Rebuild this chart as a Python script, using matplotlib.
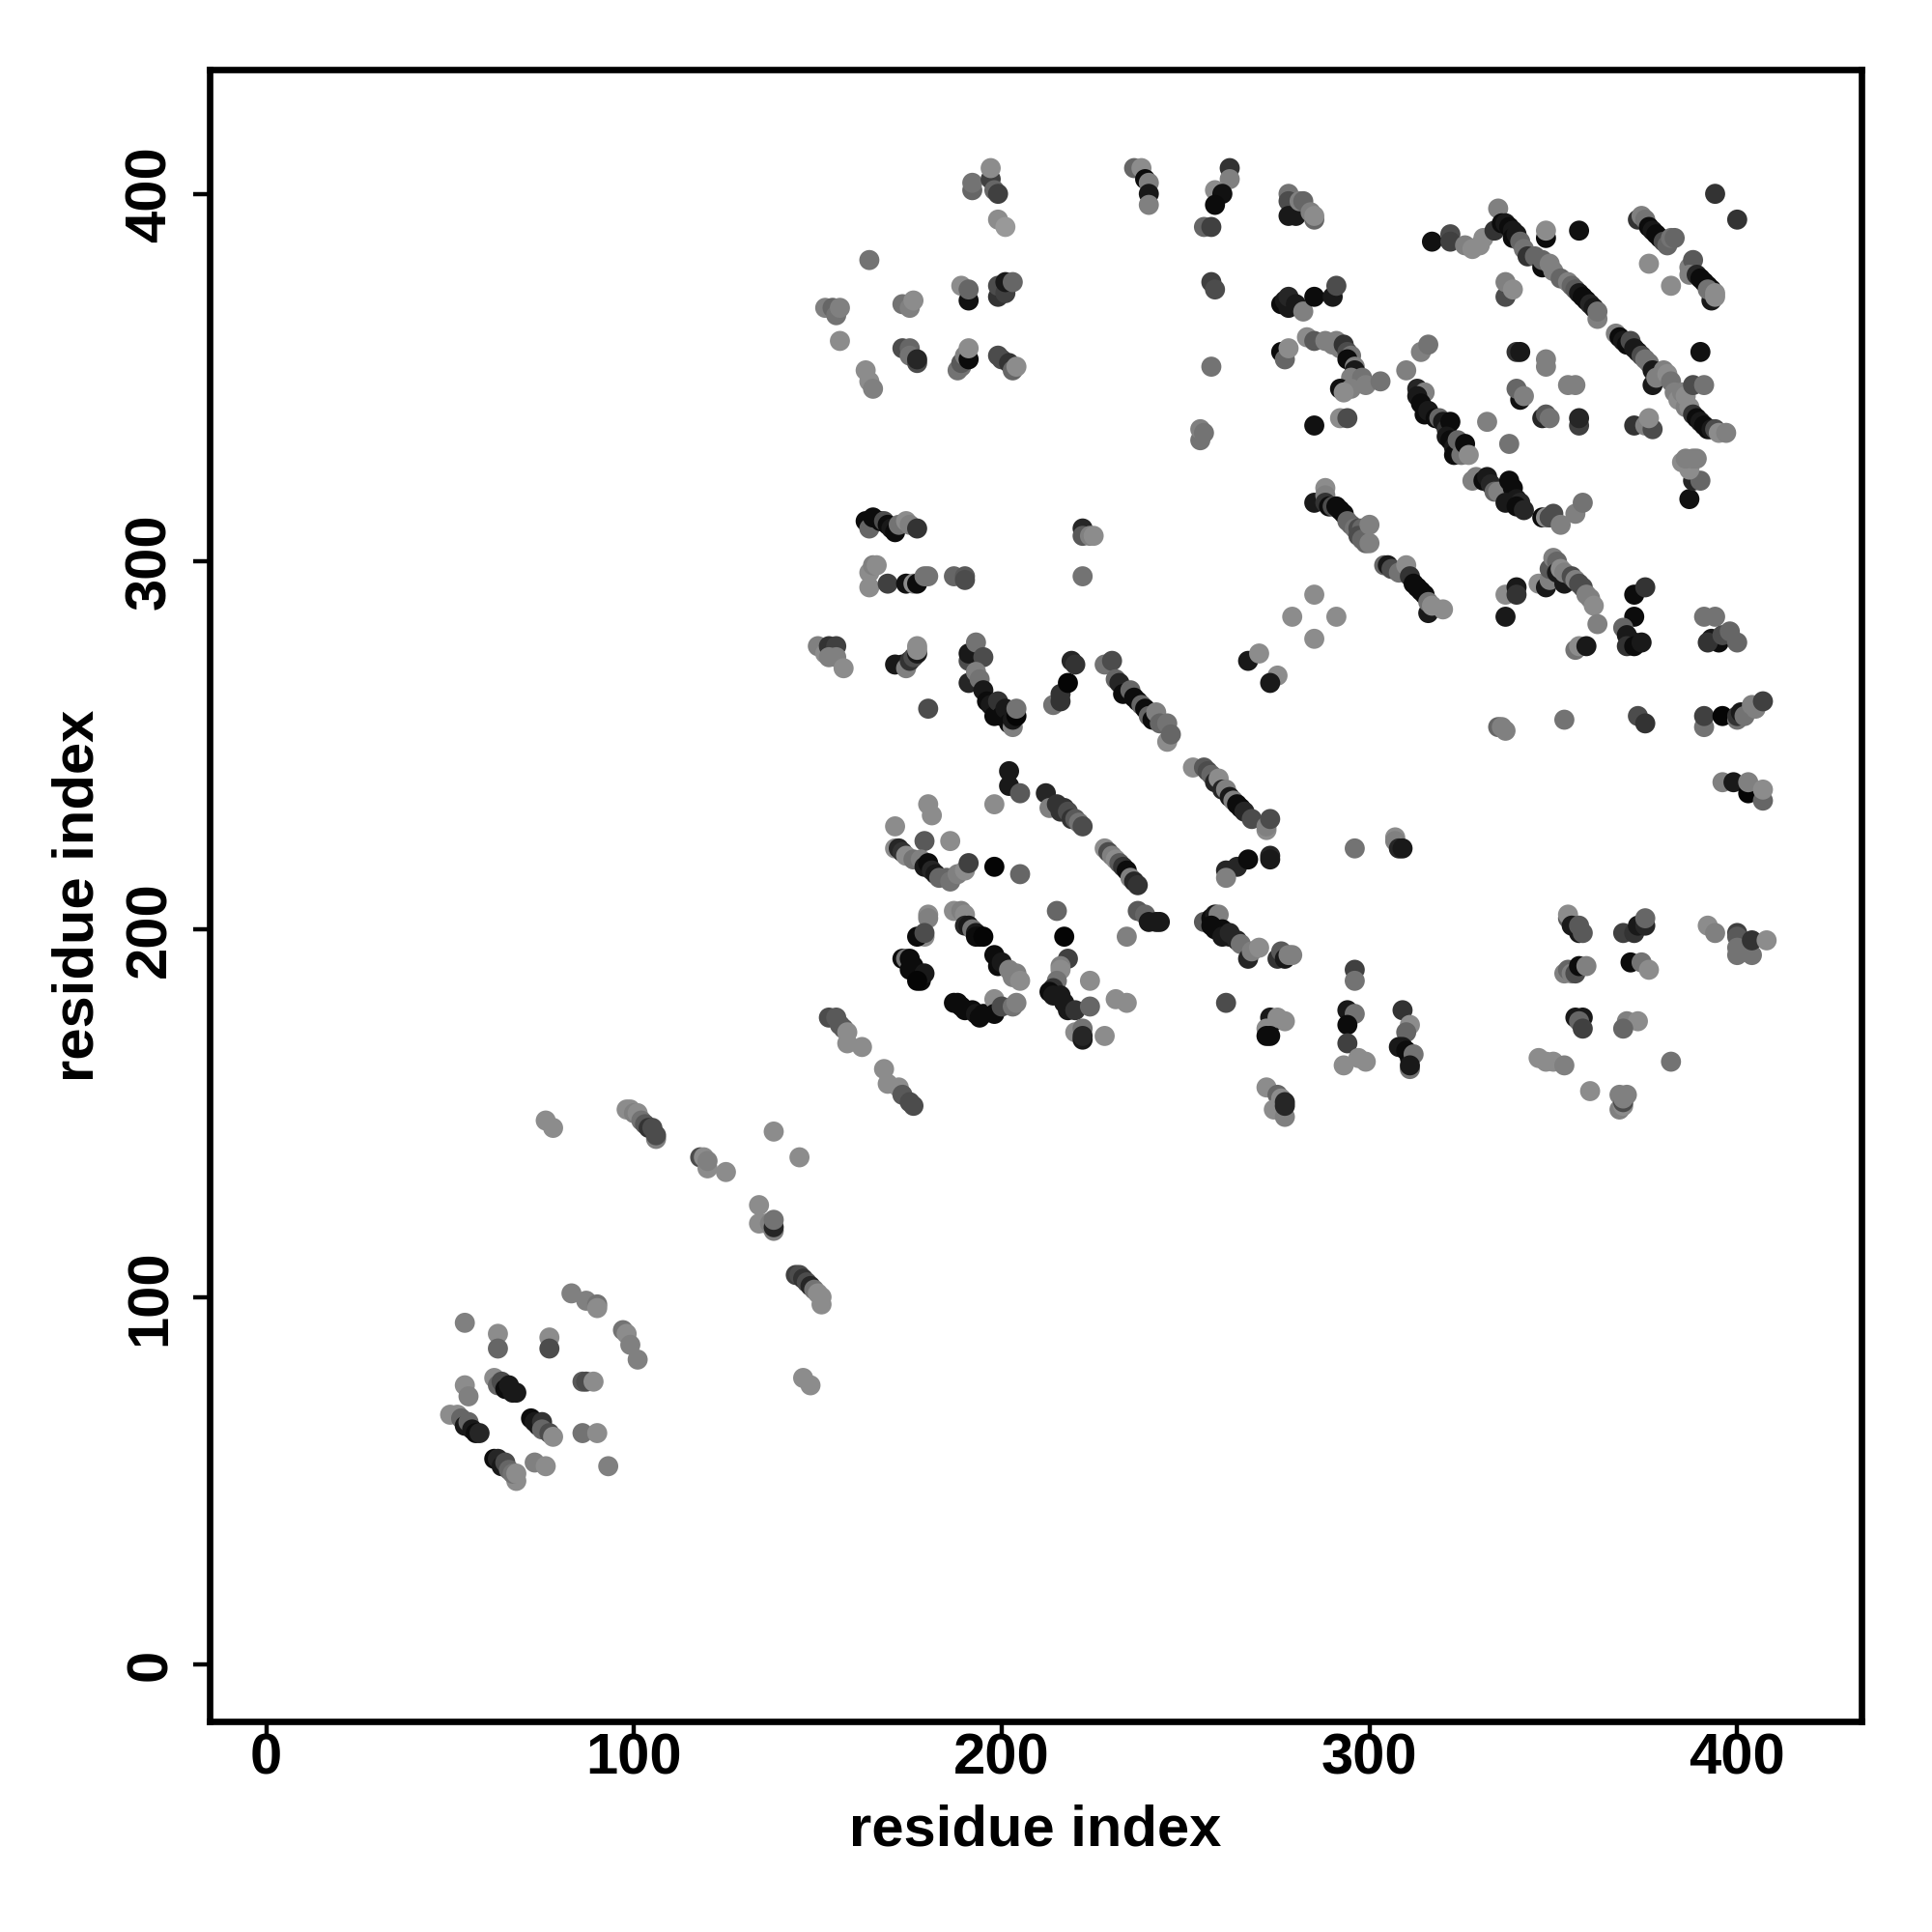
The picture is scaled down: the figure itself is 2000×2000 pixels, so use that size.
import numpy as np
import matplotlib
matplotlib.use('Agg')
import matplotlib.pyplot as plt

region_n_term = [
    (54,93,.5),(63,90,.55),(63,86,.4),(77,89,.55),(77,86,.3),(83,101,.5),(87,99,.5),(90,98,.45),(90,97,.55),
    (97,91,.45),(98,90,.55),(99,87,.5),(101,83,.5),(86,77,.35),(87,77,.3),(89,77,.55),(86,63,.45),(90,63,.55),
    (93,54,.5),(73,55,.5),(76,54,.55),(54,76,.55),(55,73,.5),(62,78,.55),(63,76,.4),(64,77,.3),(65,75,.05),
    (66,76,.1),(67,74,.1),(68,74,.1),(50,68,.55),(52,68,.55),(53,67,.4),(54,65,.1),(55,66,.4),(56,64,.1),
    (57,63,.05),(58,63,.15),(72,67,.05),(73,66,.1),(74,65,.1),(75,66,.2),(75,64,.4),(77,63,.3),(78,62,.55),
    (62,56,.05),(63,56,.15),(64,54,.1),(65,55,.3),(66,53,.4),(68,50,.55),(67,52,.45),(68,52,.55),
]
region_diagonal = [
    (76,148,.55),(78,146,.55),(98,151,.55),(99,151,.55),(100,150,.5),(101,150,.55),(102,148,.45),(103,147,.35),
    (104,146,.2),(105,146,.3),(106,143,.5),(106,144,.3),(118,138,.3),(119,138,.55),(120,135,.55),(120,137,.5),
    (125,134,.55),(138,145,.55),(145,138,.55),(134,125,.55),(134,120,.55),(136,120,.55),(137,120,.5),(138,118,.5),
    (138,119,.15),(138,121,.45),(144,106,.25),(145,106,.3),(146,105,.2),(147,104,.3),(148,103,.15),(149,102,.45),
    (151,98,.55),(150,101,.55),(151,100,.55),(146,78,.55),(148,76,.55),(153,176,.3),(155,176,.35),(156,174,.35),
    (157,173,.35),(158,172,.55),(158,169,.55),(162,168,.55),(168,162,.55),(169,158,.55),(172,157,.55),(173,155,.35),
    (175,153,.3),(176,152,.3),
]
region_mid_low = [
    (180,234,.55),(181,231,.55),(171,228,.55),(186,224,.55),(179,224,.35),(171,222,.55),(172,222,.15),(173,221,.2),
    (174,220,.55),(176,219,.45),(178,219,.5),(179,217,.1),(180,218,.05),(181,216,.15),(182,215,.1),(183,214,.4),
    (185,214,.4),(186,213,.45),(188,215,.5),(190,216,.55),(191,218,.25),(198,217,.02),(205,215,.4),(202,243,.1),
    (202,239,.1),(205,237,.35),(198,234,.55),(212,237,.15),(213,233,.5),(215,234,.2),(216,232,.2),(217,233,.2),
    (218,232,.3),(219,230,.2),(220,230,.35),(221,229,.45),(222,228,.3),(228,222,.55),(229,221,.3),(230,220,.5),
    (231,219,.55),(232,218,.35),(233,217,.2),(234,216,.05),(235,214,.5),(236,213,.15),(237,212,.2),(234,198,.5),
    (237,205,.35),(239,204,.4),(240,202,.1),(242,202,.1),(243,202,.1),
    (252,244,.55),(255,244,.35),(256,243,.3),(257,242,.4),(258,240,.15),(259,241,.55),(260,238,.15),(261,238,.5),
    (262,236,.1),(263,235,.5),(264,234,.05),(265,233,.05),(266,232,.15),(268,230,.3),(272,227,.55),(272,228,.5),
    (273,230,.3),(261,216,.15),(264,217,.15),(261,214,.5),(267,219,.05),(273,220,.15),(273,219,.1),(296,222,.45),
    (307,225,.55),(307,224,.5),(308,222,.15),(309,222,.1),
]
region_ring_low = [
    (180,204,.55),(180,203,.5),(179,198,.55),(177,198,.05),(179,199,.3),(187,205,.55),(189,205,.5),(190,204,.55),
    (190,201,.15),(191,201,.1),(192,200,.45),(193,199,.1),(193,198,.05),(194,198,.05),(195,198,.02),
    (173,192,.05),(174,192,.45),(175,192,.05),(176,190,.05),(175,189,.05),(177,188,.05),(178,186,.05),(179,188,.1),
    (177,186,.02),(187,180,.05),(188,180,.05),(189,179,.05),(190,178,.05),(192,178,.05),(193,177,.1),(194,176,.05),
    (195,177,.05),(198,181,.55),(198,177,.05),(200,179,.3),(203,179,.45),(204,180,.5),(198,193,.05),(199,190,.05),
    (200,191,.1),(202,189,.5),(203,187,.5),(204,188,.5),(205,186,.55),(215,205,.4),(217,198,.02),(218,192,.25),
    (216,190,.5),(216,189,.55),(215,186,.45),(214,184,.2),(213,183,.05),(214,182,.1),(216,182,.1),(217,180,.1),
    (218,178,.1),(220,178,.2),(224,179,.4),(220,172,.55),(222,173,.45),(222,170,.1),(222,171,.15),(224,186,.55),
    (228,171,.55),(231,181,.55),(234,180,.55),
    (255,202,.35),(257,203,.05),(258,204,.1),(259,204,.5),(257,201,.05),(258,200,.05),(260,200,.05),(260,198,.1),
    (262,198,.1),(262,199,.15),(264,197,.15),(265,196,.45),(267,192,.15),(268,194,.5),(270,195,.55),(275,192,.2),
    (276,194,.35),(277,192,.1),(278,193,.5),(279,193,.5),(261,180,.3),(273,176,.1),(274,175,.1),(275,176,.55),
    (272,173,.55),(277,175,.55),(272,171,.05),(273,171,.05),(272,157,.55),(275,155,.4),(276,154,.55),(274,151,.55),
    (277,149,.5),(277,153,.15),(277,152,.15),
    (296,189,.25),(296,186,.45),(294,178,.1),(296,177,.45),(294,174,.05),(294,169,.25),(293,163,.55),(297,165,.55),
    (299,164,.55),(309,178,.2),(311,174,.55),(310,172,.4),(308,168,.1),(309,168,.1),(310,167,.05),(311,165,.05),
    (312,166,.45),(311,162,.45),(311,163,.1),
]
region_right_low = [
    (346,165,.55),(348,164,.55),(350,164,.55),(353,163,.5),(360,156,.55),(368,155,.5),(368,151,.5),(369,152,.55),
    (369,153,.3),(369,154,.5),(370,155,.5),(382,164,.45),(356,176,.1),(358,176,.1),(357,175,.4),(358,173,.25),
    (370,175,.5),(373,175,.55),(369,173,.4),(353,188,.5),(354,189,.4),(355,188,.5),(356,188,.3),(357,190,.05),
    (359,190,.5),(371,191,.05),(374,191,.45),(376,189,.55),(354,203,.35),(354,204,.55),(355,201,.1),(357,199,.1),
    (357,201,.35),(358,199,.35),(369,199,.25),(372,199,.2),(373,201,.1),(375,201,.15),(375,203,.4),(392,201,.55),
    (394,199,.5),(400,199,.25),(400,198,.35),(400,195,.45),(400,193,.45),(404,193,.45),(404,197,.2),(408,197,.55),
    (396,240,.5),(399,240,.1),(403,237,.02),(403,240,.5),(407,235,.4),(407,238,.55),
    (335,255,.4),(336,255,.5),(337,254,.5),(353,257,.45),(373,258,.3),(375,256,.2),(391,255,.45),(391,258,.25),
    (396,258,.02),(400,257,.45),(400,258,.2),(401,259,.1),(402,258,.45),(404,261,.5),(405,260,.5),(407,262,.25),
]
region_mid_high = [
    (267,273,.1),(270,275,.55),(275,269,.55),(273,267,.1),(279,285,.55),(285,291,.55),(285,279,.55),(291,285,.55),
    (285,316,.1),(288,320,.55),(288,318,.5),(288,316,.2),(289,315,.05),(290,315,.3),(291,315,.05),(292,314,.05),
    (293,313,.05),(294,311,.4),(295,310,.4),(296,309,.45),(297,309,.3),(298,309,.4),(297,307,.3),(298,306,.4),
    (299,305,.4),(300,305,.5),(300,310,.5),(304,299,.4),(305,299,.1),(306,298,.3),(308,297,.45),(310,299,.55),
    (311,296,.2),(312,294,.05),(313,293,.05),(314,292,.05),(315,291,.05),(316,286,.1),(316,289,.45),(317,288,.55),
    (320,287,.55),(337,285,.1),(337,291,.55),(340,293,.1),(340,291,.2),(346,294,.55),(348,293,.1),(349,295,.5),
    (349,298,.35),(350,301,.5),(351,300,.4),(351,297,.1),(352,298,.55),(353,294,.1),(353,297,.5),(355,296,.3),
    (356,295,.5),(357,294,.3),(358,293,.3),(359,291,.5),(360,290,.5),(361,288,.55),(362,283,.5),(356,276,.45),
    (357,277,.55),(359,277,.1),(372,291,.05),(375,293,.2),(372,285,.05),(369,282,.4),(370,280,.1),(371,278,.1),
    (372,278,.1),(370,277,.2),(372,277,.05),(374,278,.1),(391,285,.45),(394,285,.45),(393,279,.1),(395,278,.05),
    (392,278,.2),(396,280,.3),(398,281,.4),(400,278,.4),
]
region_top_right = [
    (317,387,.07),(322,389,.3),(322,387,.25),(326,386,.5),(328,385,.55),(330,386,.55),(331,388,.55),(334,390,.2),
    (335,396,.5),(336,392,.05),(337,392,.1),(338,391,.05),(339,390,.1),(339,388,.05),(340,389,.1),(341,387,.4),
    (342,385,.45),(343,383,.2),(345,383,.4),(347,380,.05),(347,382,.4),(349,381,.5),(350,379,.5),(348,388,.05),
    (348,390,.55),(357,390,.07),(352,377,.4),(354,376,.5),(355,375,.4),(356,374,.35),(357,373,.1),(358,372,.05),
    (359,371,.05),(360,370,.15),(361,369,.1),(362,366,.5),(362,368,.45),(337,372,.3),(337,376,.5),(339,374,.55),
    (373,393,.2),(374,394,.5),(375,393,.45),(376,391,.05),(377,390,.1),(378,389,.05),(379,388,.05),(380,387,.3),
    (381,386,.4),(382,388,.45),(383,388,.4),(376,381,.55),(382,375,.55),(387,380,.5),(388,382,.35),(387,378,.5),
    (389,378,.15),(390,377,.05),(391,376,.05),(392,375,.05),(393,371,.1),(393,374,.05),(392,374,.45),(394,372,.55),
    (394,373,.55),(394,400,.2),(400,393,.2),
    (367,362,.5),(368,361,.05),(369,360,.1),(370,359,.05),(371,360,.3),(372,358,.1),(373,357,.1),(374,356,.3),
    (375,355,.45),(376,354,.45),(377,352,.1),(377,348,.1),(378,350,.5),(380,352,.5),(381,351,.55),(382,349,.45),
    (383,346,.5),(384,344,.55),(385,346,.5),(386,342,.5),(386,345,.55),(387,342,.55),(388,340,.2),(389,339,.05),
    (390,338,.1),(391,337,.05),(392,336,.05),(393,336,.1),(394,336,.3),(395,335,.55),(397,335,.5),(390,357,.07),
    (388,348,.3),(391,348,.45),(372,337,.2),(375,337,.5),(377,336,.3),(376,339,.55),(387,317,.07),(388,322,.15),
    (390,322,.4),(385,327,.55),(387,325,.55),(386,328,.5),(388,328,.5),(389,328,.5),
]
region_ring_high = [
    (340,357,.2),(341,357,.1),(348,353,.5),(348,355,.5),(354,348,.5),(356,348,.5),(341,344,.07),(340,347,.4),
    (342,345,.5),(347,339,.15),(348,340,.35),(349,339,.45),(357,337,.25),(357,339,.15),(332,338,.5),(338,332,.45),
    (276,370,.05),(277,371,.1),(278,369,.1),(278,372,.15),(280,370,.1),(282,368,.5),(285,372,.05),(290,372,.1),
    (291,375,.3),(276,357,.05),(277,355,.4),(278,358,.55),(283,361,.55),(285,360,.35),(288,360,.5),(290,359,.5),
    (291,360,.5),(292,358,.5),(293,359,.2),(294,357,.3),(295,356,.45),(294,355,.05),(296,353,.5),(296,352,.1),
    (295,350,.5),(292,347,.07),(297,349,.5),(298,350,.45),(299,348,.5),(303,349,.45),(295,347,.5),(293,346,.55),
    (285,337,.07),(292,339,.55),(294,339,.3),(310,352,.5),(314,357,.5),(316,359,.45),(313,347,.15),(315,346,.5),
    (313,345,.1),(314,343,.05),(315,340,.05),(316,341,.1),(318,339,.05),(319,339,.4),(320,338,.1),(321,336,.2),
    (322,338,.05),(321,334,.1),(322,333,.05),(323,331,.1),(323,329,.05),(324,333,.4),(325,329,.45),(326,332,.05),
    (327,329,.55),(328,322,.5),(329,323,.5),(331,322,.05),(332,323,.1),(333,321,.15),(334,319,.4),(335,319,.5),
    (337,318,.5),(338,322,.05),(339,320,.05),(337,316,.1),(340,317,.1),(341,316,.15),(340,315,.05),(342,314,.15),
    (347,312,.05),(348,312,.55),(349,312,.3),(350,313,.3),(352,310,.5),(356,313,.5),(358,316,.45),
]
region_top_left = [
    (192,401,.4),(192,403,.45),(197,404,.25),(197,407,.55),(198,401,.4),(199,400,.25),(199,393,.55),(201,391,.6),
    (164,382,.45),(152,369,.5),(154,369,.4),(155,367,.45),(156,369,.5),(156,360,.55),(163,352,.55),(164,349,.55),
    (165,347,.5),(173,370,.45),(175,369,.5),(176,371,.55),(173,358,.3),(175,358,.4),(175,356,.45),(177,354,.3),
    (177,355,.15),(188,352,.45),(189,353,.45),(189,354,.35),(190,356,.5),(191,355,.05),(191,358,.55),(189,375,.55),
    (191,371,.07),(191,374,.4),(199,372,.2),(199,375,.3),(201,373,.25),(201,376,.1),(203,376,.4),(199,356,.3),
    (200,355,.3),(202,354,.2),(203,352,.4),(204,353,.55),(236,407,.4),(238,407,.55),(239,404,.05),(240,403,.5),
    (240,400,.1),(240,397,.5),(262,407,.2),(262,404,.5),(258,401,.55),(260,400,.07),(258,397,.05),(255,391,.4),
    (257,391,.25),(257,376,.25),(258,374,.3),(257,353,.45),(254,333,.45),(254,336,.5),(255,335,.45),
    (278,400,.45),(278,398,.3),(278,394,.1),(280,394,.1),(281,398,.5),(282,398,.4),(285,393,.4),(284,395,.5),(285,394,.55),
]
region_helix = [
    (163,311,.05),(164,309,.4),(165,312,.05),(167,311,.05),(168,311,.3),(169,310,.05),(170,309,.1),(171,308,.05),
    (172,310,.45),(174,311,.55),(175,310,.5),(177,309,.2),(164,293,.55),(164,297,.55),(165,299,.5),(166,299,.55),
    (169,294,.25),(174,294,.07),(176,294,.55),(177,294,.05),(179,296,.45),(180,296,.45),(187,296,.4),(190,296,.35),
    (190,295,.3),(222,309,.15),(222,307,.35),(224,307,.5),(225,307,.55),(222,296,.45),(150,277,.5),(152,275,.55),
    (153,277,.2),(155,277,.25),(153,274,.5),(155,274,.5),(157,271,.55),(171,272,.1),(173,272,.1),(174,271,.5),
    (175,273,.2),(176,274,.3),(177,275,.1),(177,276,.55),(177,277,.55),(180,260,.3),(191,273,.3),(191,275,.1),
    (193,278,.45),(195,274,.3),(191,267,.15),(193,270,.5),(194,268,.45),(195,265,.1),(196,262,.05),(197,261,.1),
    (198,258,.05),(199,262,.2),(200,258,.05),(201,260,.1),(202,256,.05),(203,255,.5),(203,257,.1),(204,258,.02),
    (204,260,.45),(214,261,.45),(216,262,.2),(216,264,.2),(218,267,.02),(219,273,.15),(220,272,.2),(228,272,.45),
    (230,273,.3),(231,268,.4),(232,267,.15),(233,264,.05),(235,265,.4),(236,263,.05),(237,262,.05),(238,261,.4),
    (239,260,.05),(240,258,.4),(241,257,.05),(242,259,.5),(245,251,.55),(243,256,.4),(245,256,.45),(246,253,.4),
]
tick_vals = [0, 100, 200, 300, 400]

regions = [region_n_term, region_diagonal, region_mid_low, region_ring_low, region_right_low,
           region_mid_high, region_top_right, region_ring_high, region_top_left, region_helix]
pts = np.array([p for r in regions for p in r])

plt.rcParams['font.family'] = ['Liberation Sans', 'DejaVu Sans']
plt.rcParams['font.weight'] = 'bold'

fig = plt.figure(figsize=(10, 10), dpi=200)
ax = fig.add_axes([0.1085, 0.109, 0.855, 0.855])
ax.scatter(pts[:, 0], pts[:, 1], c=pts[:, 2], cmap='gray', vmin=0, vmax=1, s=56, linewidths=0)
ax.set_xlim(-15.4, 433.8)
ax.set_ylim(-15.4, 433.8)
ax.set_xticks(tick_vals)
ax.set_yticks(tick_vals)
ax.tick_params(axis='both', length=6, width=1.6, labelsize=21.5)
ax.tick_params(axis='x', pad=-2)
ax.tick_params(axis='y', pad=6)
plt.setp(ax.get_yticklabels(), rotation=90, va='center')
for s in ax.spines.values():
    s.set_linewidth(2.4)
ax.set_xlabel('residue index', fontsize=21.5, fontweight='bold')
ax.set_ylabel('residue index', fontsize=21.5, fontweight='bold')
ax.xaxis.set_label_coords(0.5, -0.05)
ax.yaxis.set_label_coords(-0.0635, 0.5)
fig.savefig('out.png', dpi=200)
